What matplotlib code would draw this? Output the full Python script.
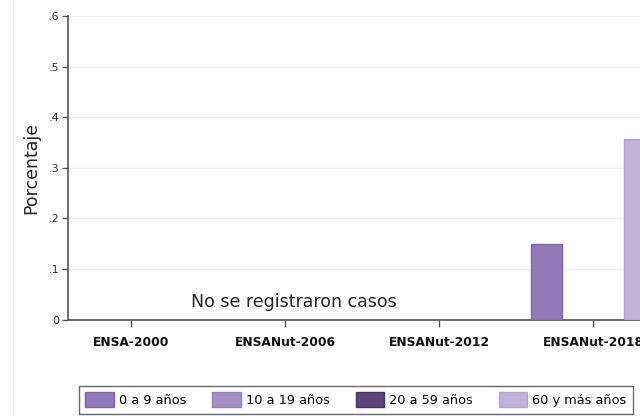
import matplotlib.pyplot as plt
import numpy as np
from matplotlib.lines import Line2D

# Datos
encuestas = ["ENSA-2000", "ENSANut-2006", "ENSANut-2012", "ENSANut-2018"]
grupos = ["0 a 9 años", "10 a 19 años", "20 a 59 años", "60 y más años"]
colores = ["#9279b8", "#a58fc6", "#5c4378", "#c1b2d9"]
bordes = ["#8066a8", "#9580b8", "#4a3264", "#b3a2cf"]

# porcentaje por grupo (None = sin casos)
p_0a9 = [None, None, None, 0.150]
p_10a19 = [None, None, None, None]
p_20a59 = [None, None, None, None]
p_60mas = [None, None, None, 0.356]
valores = [p_0a9, p_10a19, p_20a59, p_60mas]

plt.rcParams['font.family'] = ['DejaVu Sans']

fig = plt.figure(figsize=(6.4, 4.16), dpi=100)
ax = fig.add_axes([68/640, 96.5/416, 588/640, 303.5/416])

# borde tenue de la región del gráfico
fig.add_artist(Line2D([12.5/640, 12.5/640], [0, 1], color="#f0f0f0", linewidth=1))

x = np.arange(len(encuestas))
ancho = 0.2
offsets = [-0.3, -0.1, 0.1, 0.3]

for i, grupo in enumerate(grupos):
    xs = [x[j] + offsets[i] for j in range(len(encuestas)) if valores[i][j] is not None]
    ys = [v for v in valores[i] if v is not None]
    ax.bar(xs, ys, width=ancho, color=colores[i], edgecolor=bordes[i], linewidth=1, zorder=3)
    # barra vacía solo para la leyenda
    ax.bar([np.nan], [np.nan], width=ancho, color=colores[i], edgecolor=bordes[i], label=grupo)

ax.text(1.06, 0.035, "No se registraron casos", ha="center", va="center", fontsize=12.5, color="#222222")

ax.set_xlim(-0.41, 3.41)
ax.set_ylim(0, 0.6)
ax.set_yticks([0, 0.1, 0.2, 0.3, 0.4, 0.5, 0.6])
ax.set_yticklabels(["0", ".1", ".2", ".3", ".4", ".5", ".6"], fontsize=8, color="#333333")
ax.set_xticks(x)
ax.set_xticklabels(encuestas, fontsize=8.8, fontweight="bold", color="#111111")
ax.tick_params(axis="x", length=5, width=1, color="#555555", pad=7)
ax.tick_params(axis="y", length=4, width=1, color="#555555", pad=2)
ax.set_ylabel("Porcentaje", fontsize=12.5, color="#222222", labelpad=6)

ax.grid(axis="y", color="#eaf0f3", linewidth=1, zorder=0)
ax.set_axisbelow(True)
for lado in ["top", "right"]:
    ax.spines[lado].set_visible(False)
ax.spines["left"].set_color("#555555")
ax.spines["bottom"].set_color("#555555")
ax.spines["left"].set_linewidth(1.2)
ax.spines["bottom"].set_linewidth(1.2)

leg = fig.legend(loc="upper left", bbox_to_anchor=(79/640, 1 - 386/416), ncol=4, fontsize=9.3,
                 frameon=True, fancybox=False, edgecolor="#444444",
                 handlelength=2.2, handleheight=1.4, handletextpad=0.4, borderpad=0.5,
                 columnspacing=2.0, borderaxespad=0)
leg.get_frame().set_linewidth(1)

fig.savefig("out.png", dpi=100)
